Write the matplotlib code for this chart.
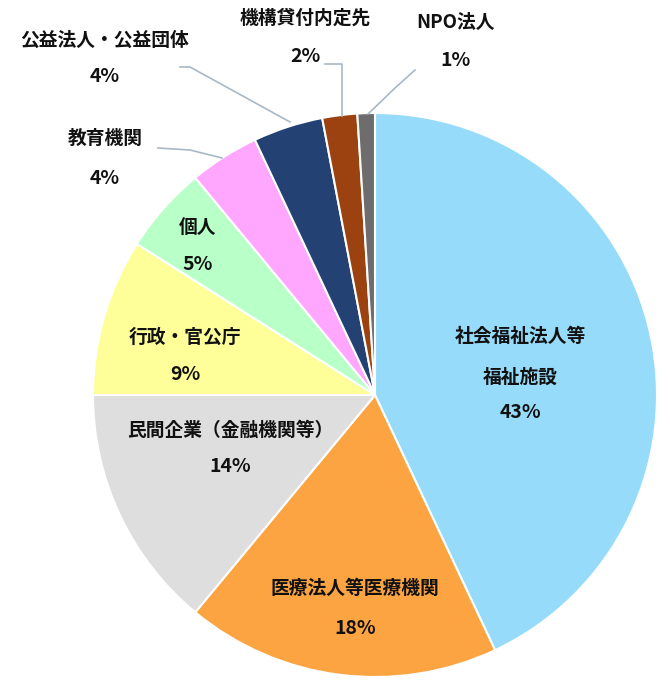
import matplotlib
matplotlib.use("Agg")
import matplotlib.pyplot as plt

categories = ["社会福祉法人等\n福祉施設", "医療法人等医療機関", "民間企業（金融機関等）", "行政・官公庁",
              "個人", "教育機関", "公益法人・公益団体", "機構貸付内定先", "NPO法人"]
values = [43, 18, 14, 9, 5, 4, 4, 2, 1]
colors = ["#96DCFA", "#FBA441", "#DEDEDE", "#FFFF99", "#B8FFC8", "#FFA6FF", "#244174", "#9C4211", "#6D6D6D"]

plt.rcParams["font.family"] = ["Noto Sans CJK JP", "DejaVu Sans"]
W, H = 670, 681
fig = plt.figure(figsize=(W/100, H/100), dpi=100)
cx, cy, r = 375, 395, 282
ax = fig.add_axes([(cx-r)/W, 1-(cy+r)/H, 2*r/W, 2*r/H])
ax.pie(values, colors=colors, startangle=90, counterclock=False,
       wedgeprops=dict(edgecolor="white", linewidth=1.5))
ax.set_aspect("auto")
ax.set_xlim(-1, 1); ax.set_ylim(-1, 1)

ov = fig.add_axes([0, 0, 1, 1], facecolor="none")
ov.set_xlim(0, W); ov.set_ylim(H, 0); ov.axis("off")

label_pos = [(520, 337, 413), (355, 588, 628), (230, 430, 466), (185, 337, 375),
             (198, 227, 264), (105, 138, 178), (105, 40, 76), (305, 18, 57), (455, 22, 60)]
for cat, v, (x, y1, y2) in zip(categories, values, label_pos):
    lines = cat.split("\n")
    for i, ln in enumerate(lines):
        ov.text(x, y1 + i*40, ln, ha="center", va="center", fontsize=13.5, fontweight="bold", color="#111111")
    ov.text(x, y2, f"{v}%", ha="center", va="center", fontsize=14, fontweight="bold", color="#111111")

lc = "#A9B7C6"
ov.plot([158, 190, 222], [148, 150, 158], color=lc, lw=1.2)
ov.plot([180, 190, 290], [67, 67, 122], color=lc, lw=1.2)
ov.plot([325, 342, 342], [64, 64, 116], color=lc, lw=1.2)
ov.plot([415, 395, 368], [70, 88, 114], color=lc, lw=1.2)

fig.savefig("out.png", dpi=100)
